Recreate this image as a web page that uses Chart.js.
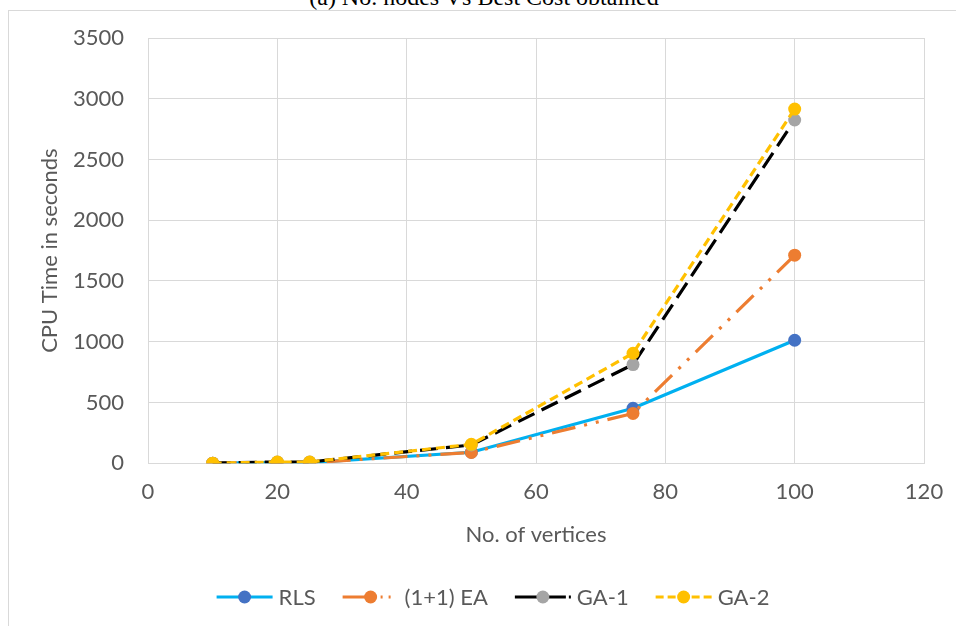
<!DOCTYPE html>
<html>
<head>
<meta charset="utf-8">
<script src="https://cdn.jsdelivr.net/npm/chart.js@4.4.1/dist/chart.umd.min.js"></script>
<style>
  html, body { margin:0; padding:0; background:#fff; overflow:hidden; }
  #wrap { position:relative; width:956px; height:626px; }
  #frame { position:absolute; left:8px; top:10px; width:960px; height:640px; border-top:1px solid #d9d9d9; border-left:1px solid #d9d9d9; }
  #cap { position:absolute; left:0; width:968px; top:-15px; text-align:center; font-family:"Liberation Serif", serif; font-size:24px; line-height:24px; color:#000; }
  canvas { position:absolute; left:0; top:0; }
</style>
</head>
<body>
<div id="wrap">
  <div id="cap">(a) No. nodes Vs Best Cost obtained</div>
  <div id="frame"></div>
  <canvas id="chart" width="956" height="626"></canvas>
</div>
<script>
// values
const vertices = [10, 20, 25, 50, 75, 100];
const rls   = [0, 5, 5, 90, 452, 1012];
const ea    = [0, 5, 5, 88, 410, 1712];
const ga1   = [0, 10, 10, 150, 812, 2825];
const ga2   = [0, 10, 10, 155, 905, 2915];
const yTicks = [0, 500, 1000, 1500, 2000, 2500, 3000, 3500];

const FONT = 'Lato, "Open Sans", sans-serif';
const TXT = '#595959';
const FS = 22;

function pts(arr){ return vertices.map((x,i)=>({ x, y: arr[i] })); }

const series = [
  { label:'RLS',       data:rls, line:'#00B0F0', mark:'#4472C4', dash:[],                   order:4 },
  { label:'(1+1) EA',  data:ea,  line:'#ED7D31', mark:'#ED7D31', dash:[24,9,3,9,3,9],       order:3 },
  { label:'GA-1',      data:ga1, line:'#000000', mark:'#A5A5A5', dash:[18,8],               order:2 },
  { label:'GA-2',      data:ga2, line:'#FFC000', mark:'#FFC000', dash:[9,5],                order:1 }
];

// legend drawn like the spreadsheet one: line sample with marker in the middle
const legendDash = [[], [32,6,2,6,2,20], [24,3], [8,4]];
const lineLegend = {
  id:'lineLegend',
  afterDraw(chart){
    const ctx = chart.ctx;
    ctx.save();
    ctx.font = FS + 'px ' + FONT;
    const sw = 56, tg = 6, gap = 27;
    const widths = series.map(s => sw + tg + ctx.measureText(s.label).width);
    const total = widths.reduce((a,b)=>a+b,0) + gap*(series.length-1);
    let x = 493 - total/2;
    const y = 597;
    series.forEach((s,i)=>{
      ctx.strokeStyle = s.line; ctx.lineWidth = 3.2; ctx.lineCap = 'butt';
      ctx.setLineDash(legendDash[i]);
      ctx.beginPath(); ctx.moveTo(x, y); ctx.lineTo(x+sw, y); ctx.stroke();
      ctx.setLineDash([]);
      ctx.fillStyle = s.mark;
      ctx.beginPath(); ctx.arc(x+sw/2, y, 6.5, 0, Math.PI*2); ctx.fill();
      ctx.fillStyle = TXT; ctx.textBaseline = 'middle'; ctx.textAlign = 'left';
      ctx.fillText(s.label, x+sw+tg, y+1);
      x += widths[i] + gap;
    });
    ctx.restore();
  }
};

new Chart(document.getElementById('chart').getContext('2d'), {
  type:'line',
  data:{
    datasets: series.map(s => ({
      label:s.label, data:pts(s.data), order:s.order,
      borderColor:s.line, borderWidth:3.2, borderDash:s.dash, borderCapStyle:'butt',
      pointRadius:6.5, pointBackgroundColor:s.mark, pointBorderColor:s.mark, pointBorderWidth:0,
      tension:0, fill:false
    }))
  },
  options:{
    responsive:false, animation:false,
    layout:{ padding:{ left:37, top:38, right:32, bottom:78 } },
    plugins:{ legend:{ display:false }, tooltip:{ enabled:false } },
    scales:{
      x:{
        type:'linear', min:0, max:120,
        afterFit(axis){ axis.paddingRight = 0; axis.paddingLeft = 0; },
        ticks:{ stepSize:20, color:TXT, font:{ family:FONT, size:FS }, padding:16, callback:v=>String(v) },
        grid:{ color:'#d9d9d9', lineWidth:1, drawTicks:false },
        border:{ color:'#d9d9d9' },
        title:{ display:true, text:'No. of vertices', color:TXT, font:{ family:FONT, size:FS }, padding:{ top:0, bottom:0 } }
      },
      y:{
        min:0, max:3500,
        afterBuildTicks(axis){ axis.ticks = yTicks.map(v=>({ value:v })); },
        afterFit(axis){ axis.width = 111; },
        ticks:{ color:TXT, font:{ family:FONT, size:FS }, padding:24, callback:v=>String(v) },
        grid:{ color:'#d9d9d9', lineWidth:1, drawTicks:false },
        border:{ display:false },
        title:{ display:true, text:'CPU Time in seconds', color:TXT, font:{ family:FONT, size:FS }, padding:{ top:0, bottom:0 } }
      }
    }
  },
  plugins:[lineLegend]
});
</script>
</body>
</html>
